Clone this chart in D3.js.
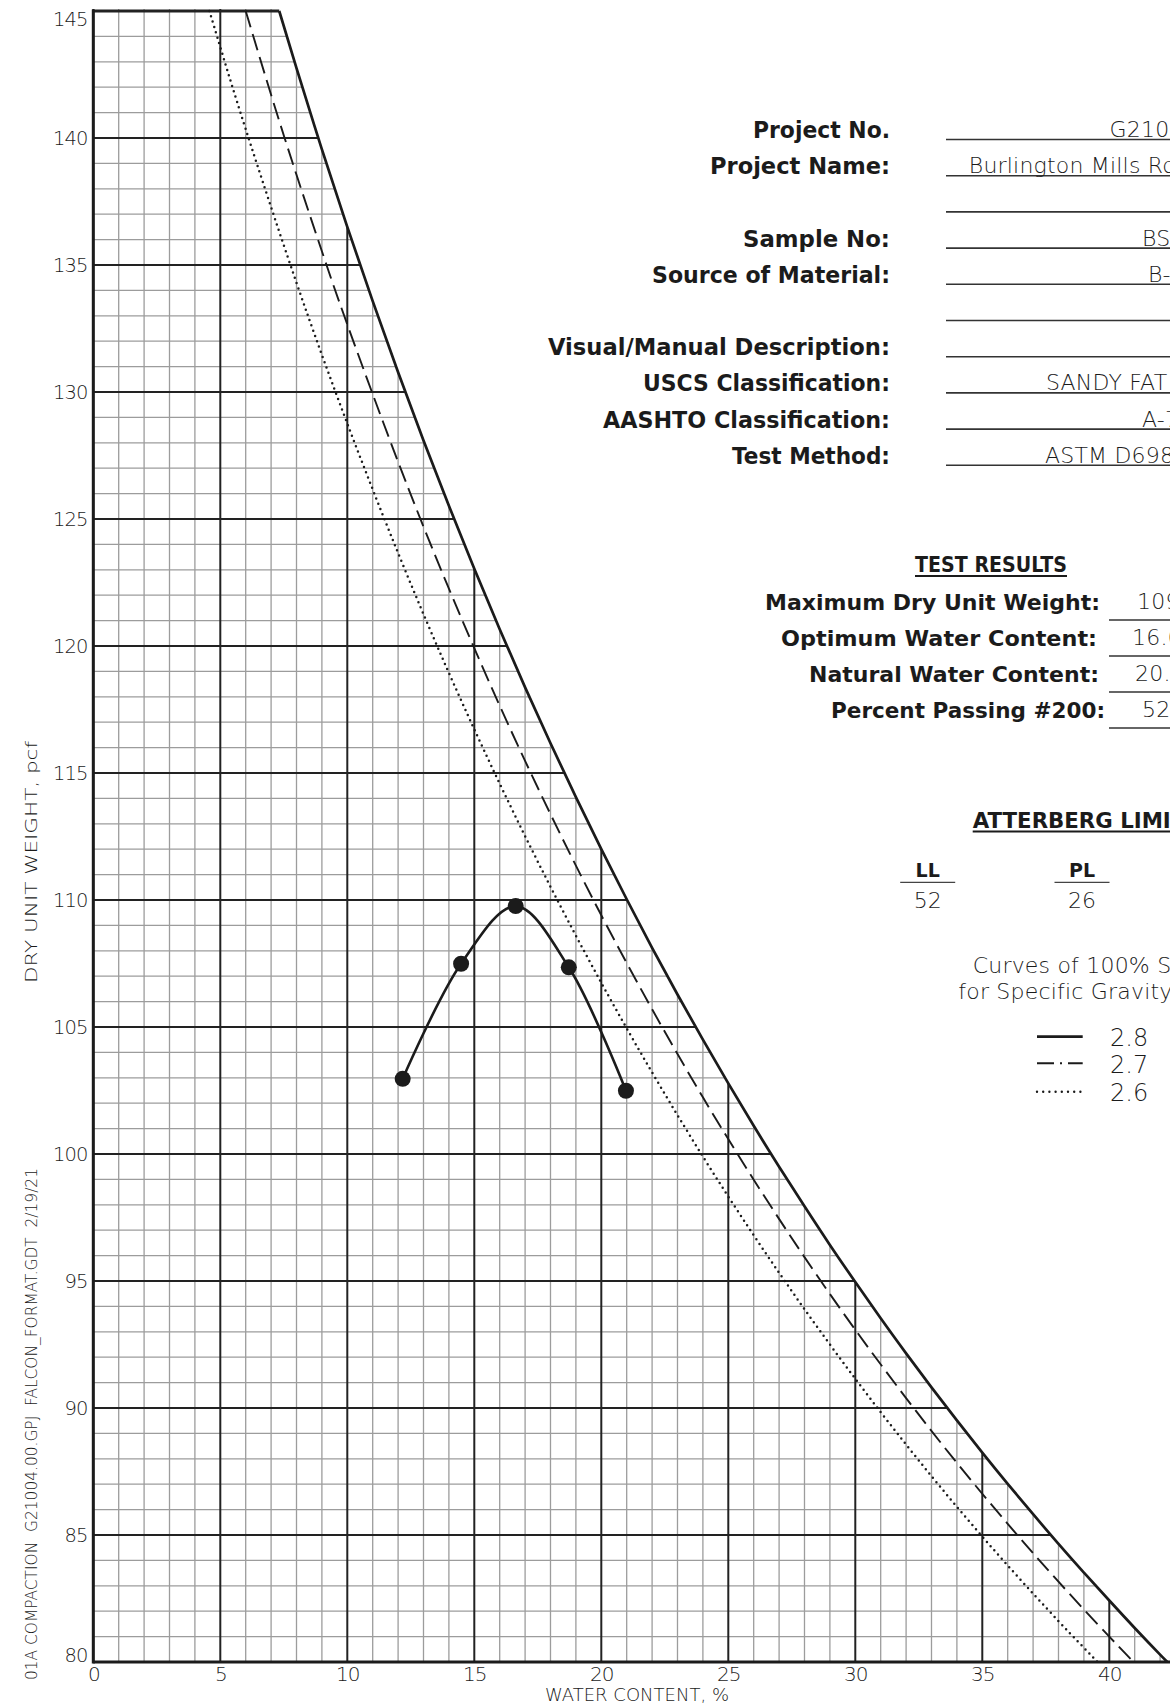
<!DOCTYPE html>
<html><head><meta charset="utf-8">
<script src="https://cdn.jsdelivr.net/npm/d3@7"></script>
<style>
html,body{margin:0;padding:0;background:#fff;overflow:hidden}
svg{display:block}
</style></head><body>
<svg id="c" width="1170" height="1706"></svg>
<script>
// ---------- data ----------
const xTicks = [0, 5, 10, 15, 20, 25, 30, 35, 40];
const yTicks = [80, 85, 90, 95, 100, 105, 110, 115, 120, 125, 130, 135, 140, 145];

// compaction test points
const waterContent  = [12.18, 14.48, 16.63, 18.72, 20.97];
const dryUnitWeight = [102.96, 107.49, 109.76, 107.35, 102.49];

// zero-air-voids curves (water content %, dry unit weight pcf)
const zav28W = [7.32, 8, 9, 10, 11, 12, 13, 14, 15, 16, 17, 18, 19, 20, 21, 22, 23, 24, 25, 26, 27, 28, 29, 30, 31, 32, 33, 34, 35, 36, 37, 38, 39, 40, 41, 42, 42.29];
const zav28G = [145, 142.75, 139.55, 136.50, 133.58, 130.78, 128.09, 125.52, 123.04, 120.66, 118.37, 116.17, 114.05, 112.00, 110.03, 108.12, 106.28, 104.50, 102.78, 101.11, 99.50, 97.94, 96.42, 94.96, 93.53, 92.15, 90.81, 89.51, 88.24, 87.01, 85.82, 84.65, 83.52, 82.42, 81.34, 80.29, 80];
const zav27W = [6.00, 7, 8, 9, 10, 12, 14, 16, 18, 20, 22, 24, 26, 28, 30, 32, 34, 36, 38, 40, 40.96];
const zav27G = [145, 141.70, 138.55, 135.54, 132.66, 127.25, 122.26, 117.65, 113.38, 109.40, 105.70, 102.23, 98.99, 95.94, 93.08, 90.39, 87.84, 85.44, 83.16, 81.00, 80];
const zav26W = [4.57, 5, 6, 8, 10, 12, 14, 16, 18, 20, 22, 24, 26, 28, 30, 32, 34, 36, 38, 39.54];
const zav26G = [145, 143.58, 140.35, 134.30, 128.76, 123.66, 118.94, 114.58, 110.52, 106.74, 103.21, 99.90, 96.80, 93.89, 91.15, 88.56, 86.11, 83.80, 81.61, 80];

// text blocks
const infoLabels = ["Project No.", "Project Name:", "", "Sample No:", "Source of Material:", "", "Visual/Manual Description:", "USCS Classification:", "AASHTO Classification:", "Test Method:"];
const infoValues = ["G21004.00", "Burlington Mills Road", "", "BS-1", "B-1", "", "", "SANDY FAT CLAY (CH)", "A-7-6", "ASTM D698"];
const testLabels = ["Maximum Dry Unit Weight:", "Optimum Water Content:", "Natural Water Content:", "Percent Passing #200:"];
const testValues = ["109.8", "16.6", "20.", "52"];
const limitNames = ["LL", "PL"];
const limitValues = ["52", "26"];
const gravities = ["2.8", "2.7", "2.6"];
const legendTitle = ["Curves of 100% Saturation", "for Specific Gravity Equal to:"];

// ---------- layout ----------
const svg = d3.select("#c");
const x = d3.scaleLinear().domain([0, 42.39]).range([93.3, 1170]);
const y = d3.scaleLinear().domain([80, 145]).range([1662, 11]);
const pts = (ws, gs) => ws.map((w, i) => [w, gs[i]]);
const zav28 = pts(zav28W, zav28G), zav27 = pts(zav27W, zav27G), zav26 = pts(zav26W, zav26G);
const ink = "#1b1b1b";
const light = "'DejaVu Sans', 'Open Sans', sans-serif";
const bold = "'DejaVu Sans', 'Open Sans', sans-serif";

// clip: region under the 2.8 curve
const defs = svg.append("defs");
const cp = defs.append("clipPath").attr("id", "under");
cp.append("rect").attr("x", x(0) - 3).attr("y", y(145) - 3)
  .attr("width", x(zav28W[0]) - x(0) + 3).attr("height", y(80) - y(145) + 6);
cp.append("path").attr("d", d3.area().x(d => x(d[0])).y0(y(80) + 3).y1(d => y(d[1])).curve(d3.curveNatural)(zav28));

const grid = svg.append("g").attr("clip-path", "url(#under)");
const vVals = d3.range(0, 43), hVals = d3.range(80, 146);
function drawGrid(major) {
  grid.selectAll(null).data(vVals.filter(v => (v % 5 === 0) === major)).enter().append("line")
    .attr("x1", d => x(d)).attr("x2", d => x(d)).attr("y1", y(80)).attr("y2", y(145) - 2)
    .attr("stroke", major ? "#222" : "#9c9c9c").attr("stroke-width", major ? 2 : 1.3);
  grid.selectAll(null).data(hVals.filter(v => (v % 5 === 0) === major)).enter().append("line")
    .attr("x1", x(0)).attr("x2", 1170).attr("y1", d => y(d)).attr("y2", d => y(d))
    .attr("stroke", major ? "#222" : "#9c9c9c").attr("stroke-width", major ? (d => d === 145 ? 3 : 2) : 1.3);
}
drawGrid(false); drawGrid(true);

// axes lines
svg.append("line").attr("x1", x(0)).attr("x2", x(0)).attr("y1", y(145) - 1.5).attr("y2", y(80) + 1.5)
  .attr("stroke", ink).attr("stroke-width", 3);
svg.append("line").attr("x1", x(0)).attr("x2", 1170).attr("y1", y(80)).attr("y2", y(80))
  .attr("stroke", ink).attr("stroke-width", 3);

// ZAV curves
const zl = d3.line().x(d => x(d[0])).y(d => y(d[1])).curve(d3.curveNatural);
svg.append("path").attr("d", zl(zav26)).attr("fill", "none").attr("stroke", ink)
  .attr("stroke-width", 2.5).attr("stroke-dasharray", "0,5.6").attr("stroke-linecap", "round");
svg.append("path").attr("d", zl(zav27)).attr("fill", "none").attr("stroke", ink)
  .attr("stroke-width", 1.9).attr("stroke-dasharray", "17,7");
svg.append("path").attr("d", zl(zav28)).attr("fill", "none").attr("stroke", ink)
  .attr("stroke-width", 2.7);

// compaction curve
const cpts = pts(waterContent, dryUnitWeight);
svg.append("path").attr("d", d3.line().x(d => x(d[0])).y(d => y(d[1])).curve(d3.curveCatmullRom.alpha(0.5))(cpts))
  .attr("fill", "none").attr("stroke", ink).attr("stroke-width", 2.6);
svg.selectAll(null).data(cpts).enter().append("circle")
  .attr("cx", d => x(d[0])).attr("cy", d => y(d[1])).attr("r", 8).attr("fill", ink);

// tick labels
const ya = svg.append("g").attr("transform", `translate(${x(0)},0)`)
  .call(d3.axisLeft(y).tickValues(yTicks).tickSize(0).tickPadding(6));
ya.select(".domain").remove();
ya.attr("font-family", light).attr("font-size", 19.5).attr("font-weight", 200);
ya.selectAll("text").attr("fill", ink).attr("letter-spacing", -1)
  .attr("dy", d => d === 145 ? "0.72em" : d === 80 ? "-0.05em" : "0.35em");
const xa = svg.append("g").attr("transform", `translate(0,${y(80)})`)
  .call(d3.axisBottom(x).tickValues(xTicks).tickSize(0).tickPadding(5));
xa.select(".domain").remove();
xa.attr("font-family", light).attr("font-size", 20).attr("font-weight", 200);
xa.selectAll("text").attr("fill", ink).attr("letter-spacing", -1);

// axis titles
svg.append("text").attr("x", 637).attr("y", 1701).attr("text-anchor", "middle")
  .attr("font-family", light).attr("font-weight", 200).attr("font-size", 17)
  .attr("textLength", 184).attr("lengthAdjust", "spacingAndGlyphs").attr("fill", ink)
  .text("WATER CONTENT, %");
svg.append("text").attr("transform", "translate(37,862) rotate(-90)").attr("text-anchor", "middle")
  .attr("font-family", light).attr("font-weight", 200).attr("font-size", 16)
  .attr("textLength", 242).attr("lengthAdjust", "spacingAndGlyphs").attr("fill", ink)
  .text("DRY UNIT WEIGHT, pcf");
svg.append("text").attr("transform", "translate(37,1424) rotate(-90)").attr("text-anchor", "middle")
  .attr("font-family", light).attr("font-weight", 200).attr("font-size", 15)
  .attr("textLength", 512).attr("lengthAdjust", "spacingAndGlyphs").attr("fill", ink)
  .attr("xml:space", "preserve")
  .text("01A COMPACTION  G21004.00.GPJ  FALCON_FORMAT.GDT  2/19/21");

// ---------- info panel ----------
const rowY = i => 139 + i * 36.2;
const infoW = [137, 180, 0, 147, 238, 0, 342, 247, 287, 158];
const infoVX = [1109.6, 968.8, 0, 1142, 1148, 0, 0, 1046, 1142, 1045];
infoLabels.forEach((t, i) => {
  svg.append("line").attr("x1", 946).attr("x2", 1180).attr("y1", rowY(i) + 0.5).attr("y2", rowY(i) + 0.5)
    .attr("stroke", "#333").attr("stroke-width", 1.6);
  if (t) svg.append("text").attr("x", 890).attr("y", rowY(i) - 1).attr("text-anchor", "end")
    .attr("font-family", bold).attr("font-weight", 700).attr("font-size", 23).attr("fill", ink)
    .attr("textLength", infoW[i]).attr("lengthAdjust", "spacingAndGlyphs").text(t);
  if (infoValues[i]) svg.append("text").attr("x", infoVX[i]).attr("y", rowY(i) - 2)
    .attr("font-family", light).attr("font-weight", 200).attr("font-size", 22).attr("fill", ink)
    .attr("letter-spacing", 0.2).text(infoValues[i]);
});

// ---------- test results ----------
svg.append("text").attr("x", 991).attr("y", 572).attr("text-anchor", "middle")
  .attr("font-family", bold).attr("font-weight", 700).attr("font-size", 22).attr("fill", ink)
  .attr("textLength", 152).attr("lengthAdjust", "spacingAndGlyphs").text("TEST RESULTS");
svg.append("line").attr("x1", 915).attr("x2", 1067).attr("y1", 576).attr("y2", 576).attr("stroke", ink).attr("stroke-width", 1.8);
const testW = [335, 316, 290, 274];
const testRX = [1100, 1097, 1099, 1105];
const testVX = [1137, 1132, 1135, 1142];
testLabels.forEach((t, i) => {
  const by = 610 + i * 36;
  svg.append("text").attr("x", testRX[i]).attr("y", by).attr("text-anchor", "end")
    .attr("font-family", bold).attr("font-weight", 700).attr("font-size", 22).attr("fill", ink)
    .attr("textLength", testW[i]).attr("lengthAdjust", "spacingAndGlyphs").text(t);
  svg.append("line").attr("x1", 1109).attr("x2", 1180).attr("y1", by + 10).attr("y2", by + 10)
    .attr("stroke", "#333").attr("stroke-width", 1.6);
  svg.append("text").attr("x", testVX[i]).attr("y", by - 1)
    .attr("font-family", light).attr("font-weight", 200).attr("font-size", 22).attr("fill", ink)
    .attr("letter-spacing", 0.2).text(testValues[i]);
});

// ---------- atterberg limits ----------
svg.append("text").attr("x", 972.7).attr("y", 828).attr("font-family", bold).attr("font-weight", 700)
  .attr("font-size", 22).attr("fill", ink).attr("textLength", 228).attr("lengthAdjust", "spacingAndGlyphs")
  .text("ATTERBERG LIMITS");
svg.append("line").attr("x1", 972.7).attr("x2", 1180).attr("y1", 831.5).attr("y2", 831.5).attr("stroke", ink).attr("stroke-width", 1.8);
const limX = [927.7, 1082];
limitNames.forEach((t, i) => {
  svg.append("text").attr("x", limX[i]).attr("y", 876.7).attr("text-anchor", "middle")
    .attr("font-family", bold).attr("font-weight", 700).attr("font-size", 19).attr("fill", ink).text(t);
  svg.append("line").attr("x1", limX[i] - 27.5).attr("x2", limX[i] + 27.5).attr("y1", 882.3).attr("y2", 882.3)
    .attr("stroke", "#444").attr("stroke-width", 1.3);
  svg.append("text").attr("x", limX[i]).attr("y", 908.3).attr("text-anchor", "middle")
    .attr("font-family", light).attr("font-weight", 200).attr("font-size", 22).attr("fill", ink).text(limitValues[i]);
});

// ---------- legend ----------
const ltX = [972.7, 958.3], ltY = [972.7, 999.3];
legendTitle.forEach((t, i) => {
  svg.append("text").attr("x", ltX[i]).attr("y", ltY[i]).attr("font-family", light).attr("font-weight", 200)
    .attr("font-size", 22).attr("letter-spacing", 0.2).attr("fill", ink).text(t);
});
const legY = [1036.7, 1063.3, 1091.7];
const legStyle = [
  {w: 2.7, dash: null, cap: "butt"},
  {w: 1.9, dash: "17,6,2,6", cap: "butt"},
  {w: 2.4, dash: "0,6.2", cap: "round"}
];
gravities.forEach((g, i) => {
  const l = svg.append("line").attr("x1", 1037).attr("x2", 1082.7).attr("y1", legY[i]).attr("y2", legY[i])
    .attr("stroke", ink).attr("stroke-width", legStyle[i].w).attr("stroke-linecap", legStyle[i].cap);
  if (legStyle[i].dash) l.attr("stroke-dasharray", legStyle[i].dash);
  svg.append("text").attr("x", 1110).attr("y", legY[i] + 9.5).attr("font-family", light).attr("font-weight", 200)
    .attr("font-size", 24).attr("fill", ink).text(g);
});
</script>
</body></html>
